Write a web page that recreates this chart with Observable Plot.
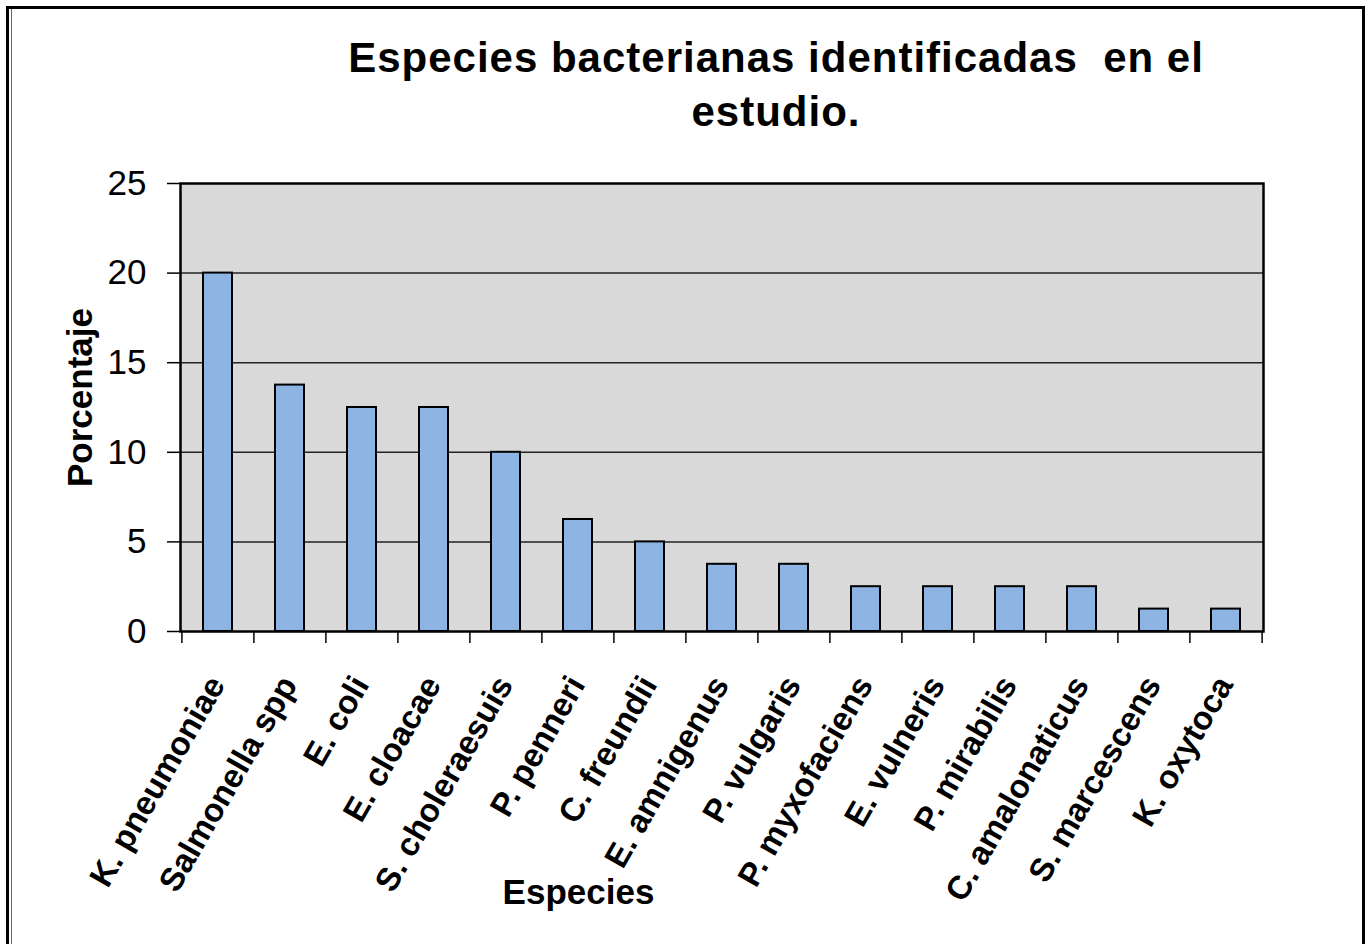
<!DOCTYPE html>
<html>
<head>
<meta charset="utf-8">
<script src="https://cdn.jsdelivr.net/npm/d3@7"></script>
<script src="https://cdn.jsdelivr.net/npm/@observablehq/plot@0.6"></script>
<style>
  html, body { margin: 0; padding: 0; background: #fff; }
  #wrap { position: relative; width: 1368px; height: 944px; overflow: hidden; background: #fff;
          font-family: "Liberation Sans", Arial, sans-serif; }
  #outer { position: absolute; left: 6px; top: 6px; width: 1353px; height: 960px; border: 3px solid #000; }
  #inner { position: absolute; left: 11px; top: 9px; width: 1px; height: 940px; background: #666; }
  #title { position: absolute; left: 276px; top: 31px; width: 1000px; text-align: center; white-space: pre;
           font-size: 42px; font-weight: bold; line-height: 54px; letter-spacing: 1px; color: #000; }
  #chart { position: absolute; left: 0; top: 0; }
</style>
</head>
<body>
<div id="wrap">
  <div id="outer"></div>
  <div id="inner"></div>
  <div id="chart"></div>
  <div id="title">Especies bacterianas identificadas  en el<br>estudio.</div>
</div>
<script>
const species = ["K. pneumoniae", "Salmonella spp", "E. coli", "E. cloacae", "S. choleraesuis",
  "P. penneri", "C. freundii", "E. amnigenus", "P. vulgaris", "P. myxofaciens",
  "E. vulneris", "P. mirabilis", "C. amalonaticus", "S. marcescens", "K. oxytoca"];
const percentages = [20, 13.75, 12.5, 12.5, 10, 6.25, 5, 3.75, 3.75, 2.5, 2.5, 2.5, 2.5, 1.25, 1.25];
const yTicks = [0, 5, 10, 15, 20, 25];
const gridValues = [5, 10, 15, 20];
const yLabel = "Porcentaje";
const xLabel = "Especies";

const data = species.map((name, i) => ({name, value: percentages[i]}));

const W = 1368, H = 944, ML = 180, MR = 105, MT = 183, MB = 313;
const halfStep = (W - ML - MR) / species.length / 2;
const font = "'Liberation Sans', Arial, sans-serif";

const chart = Plot.plot({
  width: W, height: H,
  marginLeft: ML, marginRight: MR, marginTop: MT, marginBottom: MB,
  style: {fontFamily: font, background: "transparent", color: "#000", overflow: "visible"},
  x: {domain: species, paddingInner: 0.6, paddingOuter: 0.3, axis: null},
  y: {domain: [0, 25], axis: null},
  marks: [
    Plot.frame({fill: "#d9d9d9"}),
    Plot.ruleY(gridValues, {stroke: "#222", strokeWidth: 1.5}),
    Plot.barY(data, {x: "name", y: "value", fill: "#8db4e2", stroke: "#000", strokeWidth: 2}),
    Plot.frame({stroke: "#000", strokeWidth: 2.5}),
    Plot.axisY({ticks: yTicks, tickSize: 13, tickPadding: 21, fontSize: 35, label: null, stroke: "#000", strokeWidth: 1.5}),
    Plot.ruleX(species, {x: d => d, dx: -halfStep, y1: () => 0, y2: () => 0, insetBottom: -12, stroke: "#000", strokeWidth: 1.5}),
    Plot.ruleX([species[species.length - 1]], {x: d => d, dx: halfStep, y1: () => 0, y2: () => 0, insetBottom: -12, stroke: "#000", strokeWidth: 1.5}),
    Plot.text(species, {x: d => d, text: d => d, frameAnchor: "bottom", dx: 8, dy: 53, rotate: -60,
      textAnchor: "end", lineAnchor: "bottom", fontSize: 33, fontWeight: "bold", fill: "#000"}),
    Plot.text([yLabel], {text: d => d, frameAnchor: "left", dx: -100, dy: -10, rotate: -90,
      textAnchor: "middle", lineAnchor: "middle", fontSize: 35, fontWeight: "bold", fill: "#000"}),
    Plot.text([xLabel], {text: d => d, frameAnchor: "bottom", dx: 578 - (ML + (W - MR)) / 2, dy: 903 - (H - MB),
      textAnchor: "middle", lineAnchor: "bottom", fontSize: 35, fontWeight: "bold", fill: "#000"})
  ]
});
document.getElementById("chart").appendChild(chart);
</script>
</body>
</html>
